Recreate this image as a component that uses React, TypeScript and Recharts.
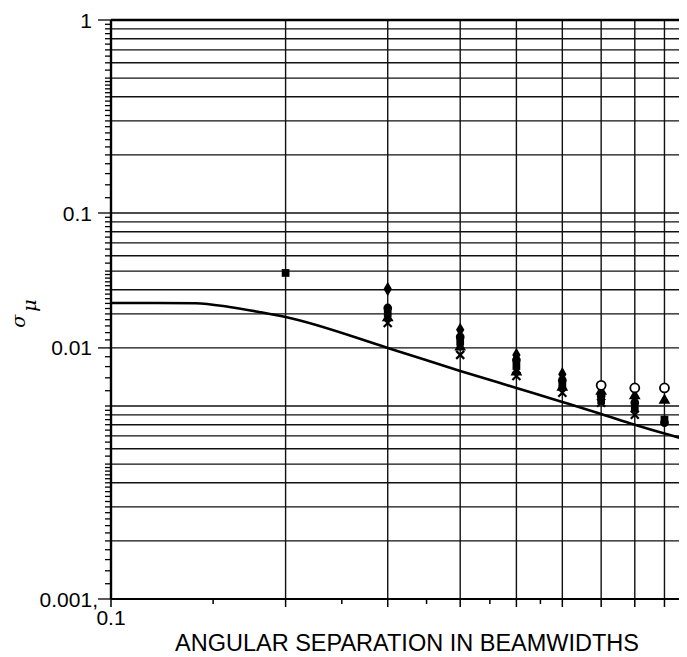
import { ReactElement } from 'react'
import {
  CartesianGrid,
  ComposedChart,
  Line,
  ReferenceLine,
  Scatter,
  XAxis,
  YAxis,
  ZAxis,
} from 'recharts'

// solid curve (theory)
const CURVE_X = [0.1, 0.12, 0.14, 0.16, 0.18, 0.2, 0.3, 0.4, 0.5, 0.6, 0.7, 0.8, 0.9, 1.0]
const CURVE_Y = [0.0342, 0.0342, 0.0341, 0.0326, 0.0307, 0.0289, 0.02, 0.0152, 0.0124, 0.0105, 0.0091, 0.008, 0.0072, 0.0066]

// measured points, one list per marker
const SQUARES = [
  [0.2, 0.0489], [0.3, 0.0303], [0.4, 0.0215], [0.5, 0.0161],
  [0.6, 0.0128], [0.7, 0.0107], [0.8, 0.0097], [0.9, 0.0085],
]
const DIAMONDS = [[0.3, 0.0404], [0.4, 0.0248], [0.5, 0.0184], [0.6, 0.0146]]
const TRIANGLES = [
  [0.3, 0.0286], [0.4, 0.0202], [0.5, 0.015], [0.6, 0.0125],
  [0.7, 0.0119], [0.8, 0.0113], [0.9, 0.0107],
]
const DOTS = [
  [0.3, 0.0322], [0.4, 0.0228], [0.5, 0.0173], [0.6, 0.0136],
  [0.7, 0.0113], [0.8, 0.0104], [0.9, 0.0082],
]
const CROSSES = [
  [0.3, 0.0269], [0.4, 0.0184], [0.5, 0.0143], [0.6, 0.0117],
  [0.7, 0.0104], [0.8, 0.009],
]
const OPEN = [[0.7, 0.0128], [0.8, 0.0124], [0.9, 0.0124], [1.0, 0.0128]]

// graph paper
const X_GRID = [0.1, 0.2, 0.3, 0.4, 0.5, 0.6, 0.7, 0.8, 0.9, 1.0]
const X_MINOR = [0.15, 0.25, 0.35, 0.45, 0.55]
const X_LABELS = [{ value: 0.1, text: '0.1' }]
const DECADES = [0.001, 0.01, 0.1]
const GRID_STEPS = [1, 2, 3, 4, 5, 6, 7, 8, 9]
const TICK_STEPS = [1, 1.2, 1.4, 1.6, 1.8, 2, 2.2, 2.4, 2.6, 2.8, 3, 3.2, 3.4, 3.6, 3.8, 4, 4.2, 4.4, 4.6, 4.8, 5, 5.5, 6, 6.5, 7, 7.5, 8, 8.5, 9, 9.5]
const Y_LABELS = [
  { value: 1, text: '1' },
  { value: 0.1, text: '0.1' },
  { value: 0.02, text: '0.01' },
  { value: 0.001, text: '0.001,' },
]

const fix = (v: number) => Number(v.toPrecision(4))
const Y_GRID = [...DECADES.flatMap((d) => GRID_STEPS.map((s) => fix(d * s))), 1]
const Y_TICKS = [...DECADES.flatMap((d) => TICK_STEPS.map((s) => fix(d * s))), 1]

const toPts = (rows: number[][]) => rows.map(([x, y]) => ({ x, y }))
const curve = CURVE_X.map((x, i) => ({ x, y: CURVE_Y[i] }))

const FONT = '"Liberation Sans", Arial, Helvetica, sans-serif'
const same = (a: number, b: number) => Math.abs(a - b) < 1e-9

function YTick(props: any) {
  const { x, y, payload } = props
  const label = Y_LABELS.find((l) => same(l.value, payload.value))
  const end = label && label.text.endsWith(',') ? x - 13 : x - 19
  return (
    <g>
      <line x1={x - (label ? 13 : 6)} x2={x} y1={y} y2={y} stroke="#000" strokeWidth={1.3} />
      {label && (
        <text x={end} y={y} dy="0.36em" textAnchor="end" fontSize={21} fontFamily={FONT} fill="#000">
          {label.text}
        </text>
      )}
    </g>
  )
}

function XTick(props: any) {
  const { x, y, payload } = props
  const major = X_GRID.some((v) => same(v, payload.value))
  const label = X_LABELS.find((l) => same(l.value, payload.value))
  return (
    <g>
      <line x1={x} x2={x} y1={y} y2={y + (major ? 8 : 5)} stroke="#000" strokeWidth={1.5} />
      {label && (
        <text x={x} y={y + 18} dy="0.36em" textAnchor="middle" fontSize={21} fontFamily={FONT} fill="#000">
          {label.text}
        </text>
      )}
    </g>
  )
}

function SigmaLabel(props: any) {
  const { viewBox } = props
  const cx = 17
  const cy = viewBox.y + viewBox.height / 2 + 4
  return (
    <text
      x={cx}
      y={cy}
      transform={`rotate(-90 ${cx} ${cy})`}
      textAnchor="middle"
      fontSize={19}
      fontStyle="italic"
      fontFamily='"DejaVu Serif", serif'
      fill="#000"
    >
      σ
      <tspan dx={3} dy={11}>μ</tspan>
    </text>
  )
}

function Cross(props: any) {
  const { cx, cy } = props
  return (
    <path
      d={`M${cx - 4},${cy - 4}L${cx + 4},${cy + 4}M${cx + 4},${cy - 4}L${cx - 4},${cy + 4}`}
      stroke="#000"
      strokeWidth={2.2}
    />
  )
}

function OpenCircle(props: any) {
  const { cx, cy } = props
  return <circle cx={cx} cy={cy} r={4.5} fill="#fff" stroke="#000" strokeWidth={1.8} />
}

export default function App(): ReactElement {
  return (
    <div style={{ width: 679, height: 649, overflow: 'hidden', background: '#fff' }}>
      <ComposedChart width={700} height={649} margin={{ top: 12, right: 17, left: 0, bottom: 0 }}>
        <CartesianGrid
          stroke="#111"
          strokeWidth={1.4}
          horizontalValues={Y_GRID}
          verticalValues={X_GRID}
        />
        <XAxis
          dataKey="x"
          type="number"
          scale="log"
          domain={[0.1, 1]}
          allowDataOverflow
          ticks={[...X_GRID, ...X_MINOR]}
          interval={0}
          tickSize={0}
          tickMargin={0}
          tick={<XTick />}
          axisLine={{ stroke: '#000', strokeWidth: 2.2 }}
          tickLine={false}
          height={58}
          label={{
            value: 'ANGULAR SEPARATION IN BEAMWIDTHS',
            position: 'insideBottom',
            offset: 6,
            dx: 6,
            style: { fontSize: 23.5, fontFamily: FONT, fill: '#000' },
          }}
        />
        <YAxis
          dataKey="y"
          type="number"
          scale="log"
          domain={[0.001, 1]}
          allowDataOverflow
          ticks={Y_TICKS}
          interval={0}
          tickSize={0}
          tickMargin={0}
          tick={<YTick />}
          axisLine={{ stroke: '#000', strokeWidth: 2.4 }}
          tickLine={false}
          width={103}
          label={{ content: <SigmaLabel /> }}
        />
        <ZAxis range={[60, 60]} />
        <ReferenceLine y={1} stroke="#000" strokeWidth={2.6} />
        <Line
          data={curve}
          dataKey="y"
          type="monotone"
          stroke="#000"
          strokeWidth={2.6}
          dot={false}
          isAnimationActive={false}
        />
        <Scatter data={toPts(SQUARES)} shape="square" fill="#000" isAnimationActive={false} />
        <Scatter data={toPts(DIAMONDS)} shape="diamond" fill="#000" isAnimationActive={false} />
        <Scatter data={toPts(TRIANGLES)} shape="triangle" fill="#000" isAnimationActive={false} />
        <Scatter data={toPts(DOTS)} shape="circle" fill="#000" isAnimationActive={false} />
        <Scatter data={toPts(CROSSES)} shape={<Cross />} isAnimationActive={false} />
        <Scatter data={toPts(OPEN)} shape={<OpenCircle />} isAnimationActive={false} />
      </ComposedChart>
    </div>
  )
}
